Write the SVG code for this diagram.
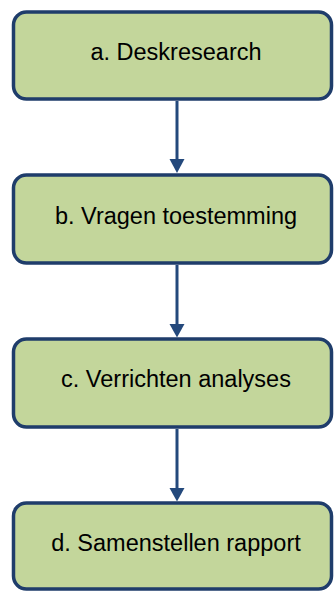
<svg xmlns="http://www.w3.org/2000/svg" width="335" height="592" viewBox="0 0 335 592">
<style>
.box{fill:#C3D69B;stroke:#1F3D6B;stroke-width:3.5}
.lbl{font-family:"Liberation Sans",Arial,sans-serif;font-size:23.5px;fill:#000;text-anchor:middle}
.con{stroke:#24497C;stroke-width:3;fill:none}
.head{fill:#24497C}
</style>
<rect width="335" height="592" fill="#fff"/>
<g id="connectors">
<line class="con" x1="177" y1="101" x2="177" y2="160"/>
<polygon class="head" points="169.5,159 184.5,159 177,173"/>
<line class="con" x1="177" y1="265" x2="177" y2="325"/>
<polygon class="head" points="169.5,324 184.5,324 177,337.5"/>
<line class="con" x1="177" y1="429" x2="177" y2="489"/>
<polygon class="head" points="169.5,488 184.5,488 177,501.5"/>
</g>
<g id="node-a">
<rect class="box" x="13.5" y="12" width="318" height="87" rx="13"/>
<text class="lbl" x="176" y="60">a. Deskresearch</text>
</g>
<g id="node-b">
<rect class="box" x="13.5" y="175" width="318" height="88" rx="13"/>
<text class="lbl" x="176" y="224">b. Vragen toestemming</text>
</g>
<g id="node-c">
<rect class="box" x="13.5" y="339" width="318" height="88" rx="13"/>
<text class="lbl" x="176" y="387">c. Verrichten analyses</text>
</g>
<g id="node-d">
<rect class="box" x="13.5" y="503" width="318" height="86" rx="13"/>
<text class="lbl" x="176" y="551">d. Samenstellen rapport</text>
</g>
</svg>
